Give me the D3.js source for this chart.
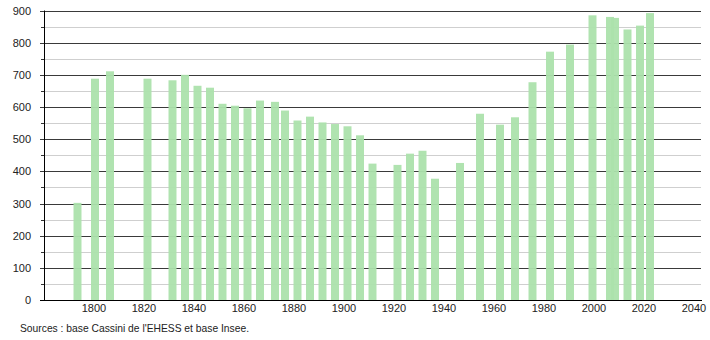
<!DOCTYPE html>
<html><head><meta charset="utf-8">
<script src="https://cdn.jsdelivr.net/npm/d3@7"></script>
<style>body{margin:0;background:#fff}svg{display:block}text{font-family:"Liberation Sans",Arial,sans-serif}</style>
</head><body>
<svg id="c" width="710" height="340"></svg>
<script>
const years = [1793,1800,1806,1821,1831,1836,1841,1846,1851,1856,1861,1866,1872,1876,1881,1886,1891,1896,1901,1906,1911,1921,1926,1931,1936,1946,1954,1962,1968,1975,1982,1990,1999,2006,2008,2013,2018,2022];
const population = [302,688,711,688,683,700,666,660,610,604,596,620,616,589,558,570,552,547,540,512,424,420,455,464,377,426,579,545,568,677,772,794,885,880,877,841,853,892];
const xTicks = [1800,1820,1840,1860,1880,1900,1920,1940,1960,1980,2000,2020,2040];
const yTicks = [0,100,200,300,400,500,600,700,800,900];
const yMinor = [50,150,250,350,450,550,650,750,850];
const source = "Sources : base Cassini de l'EHESS et base Insee.";

const svg = d3.select("#c");
const L = 44, R = 701, T = 10.5, B = 300;
const x = d3.scaleLinear().domain([1780, 2042.8]).range([L, R]);
const y = d3.scaleLinear().domain([0, 900]).range([B, T]);

// minor gridlines
svg.append("g").selectAll("line").data(yMinor).join("line")
  .attr("x1", L).attr("x2", R)
  .attr("y1", d => Math.round(y(d)) + 0.5).attr("y2", d => Math.round(y(d)) + 0.5)
  .attr("stroke", "#cfcfcf").attr("stroke-width", 1);
// minor ticks
svg.append("g").selectAll("line").data(yMinor).join("line")
  .attr("x1", L - 3).attr("x2", L)
  .attr("y1", d => Math.round(y(d)) + 0.5).attr("y2", d => Math.round(y(d)) + 0.5)
  .attr("stroke", "#333");
// major gridlines
svg.append("g").selectAll("line").data(yTicks.filter(d => d > 0)).join("line")
  .attr("x1", L - 4).attr("x2", R)
  .attr("y1", d => Math.round(y(d)) + 0.5).attr("y2", d => Math.round(y(d)) + 0.5)
  .attr("stroke", "#3a3a3a").attr("stroke-width", 1);

// bars
svg.append("g").selectAll("rect").data(years).join("rect")
  .attr("x", (d) => x(d) - 3)
  .attr("width", 8)
  .attr("y", (d, i) => y(population[i]))
  .attr("height", (d, i) => B - y(population[i]))
  .attr("fill", "#ace2ac").attr("fill-opacity", 0.95);

// axes lines
svg.append("line").attr("x1", L + 0.5).attr("x2", L + 0.5).attr("y1", T).attr("y2", B)
  .attr("stroke", "#000");
svg.append("line").attr("x1", L - 4).attr("x2", R + 1).attr("y1", B + 0.5).attr("y2", B + 0.5)
  .attr("stroke", "#000");

// y labels
svg.append("g").selectAll("text").data(yTicks).join("text")
  .attr("x", 31).attr("y", d => y(d) + 4)
  .attr("text-anchor", "end").attr("font-size", 11).attr("fill", "#222")
  .text(d => d);
// x labels
svg.append("g").selectAll("text").data(xTicks).join("text")
  .attr("x", d => x(d)).attr("y", 312)
  .attr("text-anchor", "middle").attr("font-size", 11).attr("fill", "#222")
  .text(d => d);
// source
svg.append("text").attr("x", 20).attr("y", 332).attr("font-size", 11).attr("fill", "#222")
  .attr("textLength", 229).attr("lengthAdjust", "spacingAndGlyphs")
  .text(source);
</script>
</body></html>
